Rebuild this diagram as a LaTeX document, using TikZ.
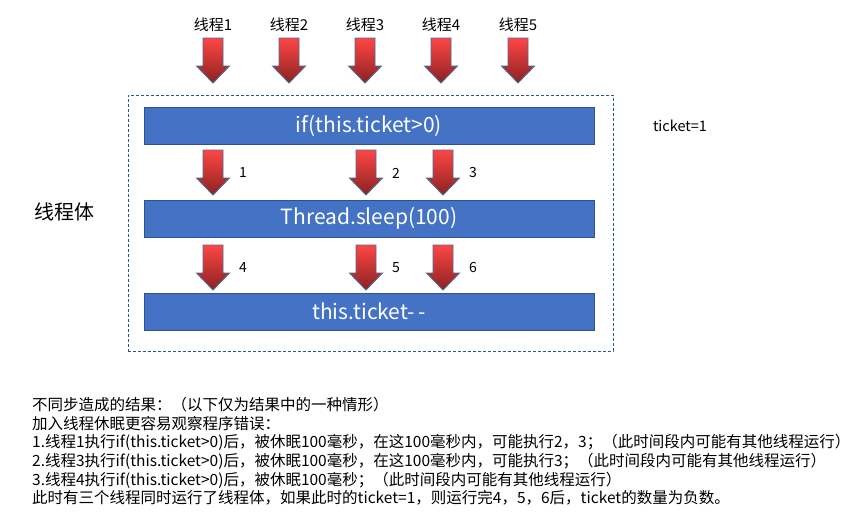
\documentclass[tikz,border=0pt]{standalone}
\usepackage{fontspec}
\setmainfont{Noto Sans CJK SC}
\definecolor{barblue}{HTML}{4472C4}
\definecolor{baredge}{HTML}{2F528F}
\definecolor{arrtop}{HTML}{FF4545}
\definecolor{arrbot}{HTML}{8A2222}
\definecolor{arredge}{HTML}{4A6B9A}
\definecolor{dashblue}{HTML}{2F5597}
\begin{document}
\begin{tikzpicture}[x=1pt,y=-1pt,
  bar/.style={draw=baredge,line width=0.8pt,fill=barblue,minimum width=450pt,minimum height=37pt,inner sep=0pt,text=white,font=\fontsize{21}{24}\selectfont},
  arrshape/.style={draw=arredge,line width=0.9pt,top color=arrtop,bottom color=arrbot},
  thrlabel/.style={font=\fontsize{15}{17}\selectfont,inner sep=0pt},
  numlabel/.style={font=\fontsize{14}{16}\selectfont,inner sep=0pt},
  note/.style={font=\fontsize{15.5}{17}\selectfont,anchor=base west,inner sep=0pt},
  downarr/.pic={\path[arrshape] (-10,0) -- (10,0) -- (10,28) -- (16.5,28) -- (0,45) -- (-16.5,28) -- (-10,28) -- cycle;}
]
\useasboundingbox (0,0) rectangle (862,522);
% dashed frame
\node[draw=dashblue,dashed,dash pattern=on 3pt off 2pt,line width=0.9pt,minimum width=485pt,minimum height=256pt,inner sep=0pt] (frame) at (370.5,223) {};
% bars
\node[bar] (b1) at (369,125.5) {if(this.ticket>0)};
\node[bar] (b2) at (369,218.5) {Thread.sleep(100)};
\node[bar] (b3) at (369,311.5) {this.ticket-\,-};
% thread labels and arrows
\foreach \i/\x in {1/213,2/289,3/365,4/441,5/518}{
  \node[thrlabel] (t\i) at (\x,25) {线程\i};
  \pic (ta\i) at (\x,38) {downarr};
}
% middle arrows
\foreach \i/\x in {1/213,2/366,3/443}{
  \pic (ma\i) at (\x,150) {downarr};
  \node[numlabel] (m\i) at (\x+30,173) {\i};
}
\foreach \i/\x in {4/213,5/366,6/443}{
  \pic (la\i) at (\x,245) {downarr};
  \node[numlabel] (l\i) at (\x+30,268) {\i};
}
\node[font=\fontsize{20}{22}\selectfont,inner sep=0pt] (body) at (64,212) {线程体};
\node[font=\fontsize{14.5}{16}\selectfont,inner sep=0pt] (tk) at (680,126) {ticket=1};
% notes
\node[note] (n1) at (32,410) {不同步造成的结果：（以下仅为结果中的一种情形）};
\node[note] (n2) at (32,429) {加入线程休眠更容易观察程序错误：};
\node[note] (n3) at (32,447.5) {1.线程1执行if(this.ticket>0)后，被休眠100毫秒，在这100毫秒内，可能执行2，3；（此时间段内可能有其他线程运行）};
\node[note] (n4) at (32,466) {2.线程3执行if(this.ticket>0)后，被休眠100毫秒，在这100毫秒内，可能执行3；（此时间段内可能有其他线程运行）};
\node[note] (n5) at (32,485) {3.线程4执行if(this.ticket>0)后，被休眠100毫秒；（此时间段内可能有其他线程运行）};
\node[note] (n6) at (32,503.5) {此时有三个线程同时运行了线程体，如果此时的ticket=1，则运行完4，5，6后，ticket的数量为负数。};
\end{tikzpicture}
\end{document}
